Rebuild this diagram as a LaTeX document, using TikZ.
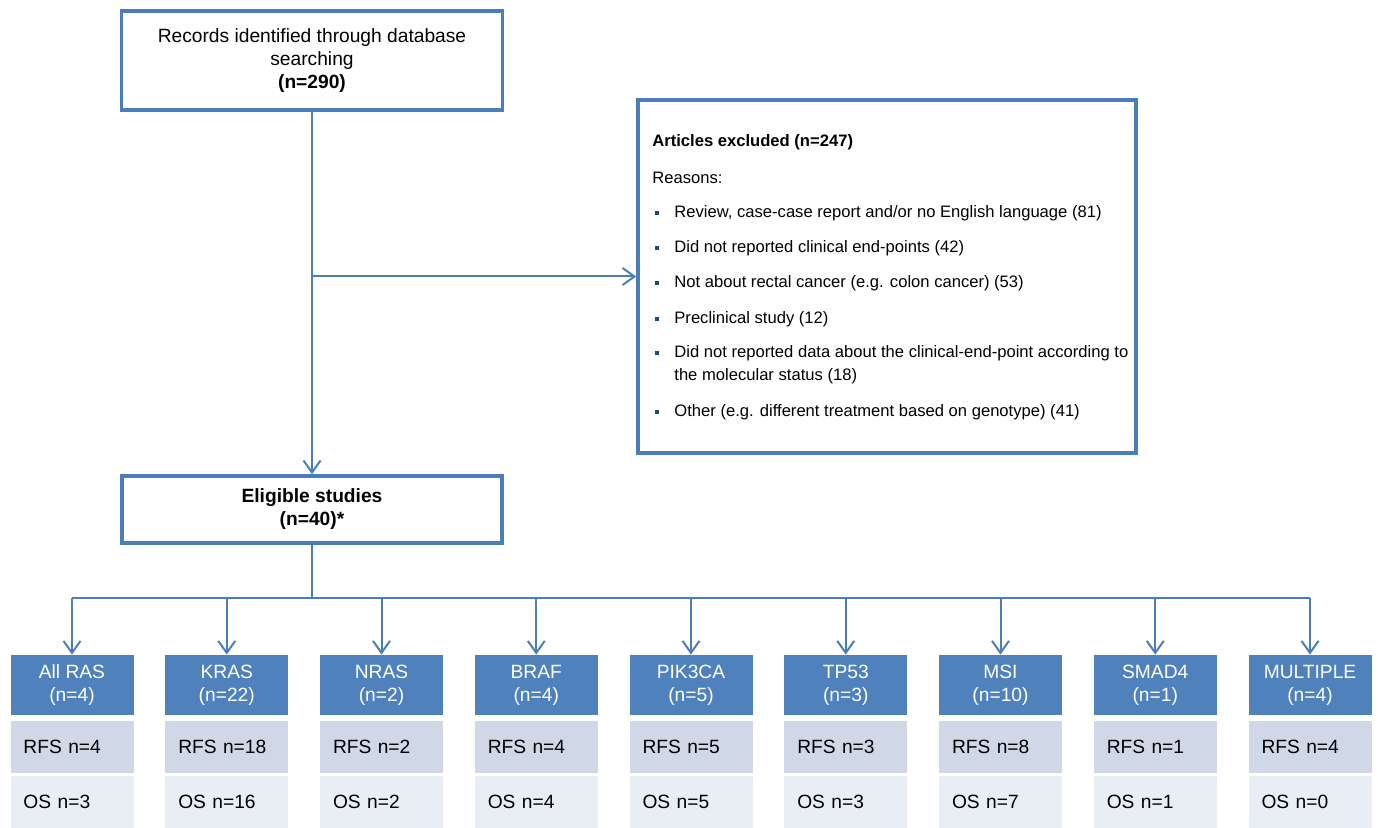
\documentclass[tikz,border=0pt]{standalone}
\usepackage{fontspec}
\setmainfont{Liberation Sans}
\usetikzlibrary{arrows.meta}
\definecolor{flowblue}{RGB}{74,126,187}
\definecolor{hdrblue}{RGB}{79,129,189}
\definecolor{rfsfill}{RGB}{208,216,232}
\definecolor{osfill}{RGB}{233,237,244}
\definecolor{dotblue}{RGB}{31,73,125}
\begin{document}
\begin{tikzpicture}[x=0.5pt, y=-0.5pt,
    every node/.style={font=\fontsize{9.6}{11.5}\selectfont},
    frame/.style={draw=flowblue, line width=1.75pt, fill=white, align=center},
    link/.style={draw=flowblue, line width=1pt},
    arr/.style={link, -{Straight Barb[length=6pt, width=8.5pt]}},
    reason/.style={anchor=west, inner sep=0pt, font=\fontsize{8.3}{10}\selectfont},
    dot/.style={fill=dotblue, minimum size=2.4pt, inner sep=0pt},
    hdr/.style={fill=hdrblue, text=white, minimum width=61.5pt, minimum height=30pt, inner sep=0pt, align=center},
    rfsrow/.style={fill=rfsfill, minimum height=26pt, text width=48.5pt, inner xsep=6.5pt, inner ysep=0pt, align=left},
    osrow/.style={fill=osfill, minimum height=26pt, text width=48.5pt, inner xsep=6.5pt, inner ysep=0pt, align=left}]
    \useasboundingbox (0,0) rectangle (1378,828);

    % search and eligible boxes
    \node[frame, minimum width=190.5pt, minimum height=49.5pt] (rec) at (312,60.5)
        {Records identified through database\\searching\\\textbf{(n=290)}};
    \node[frame, minimum width=190pt, minimum height=33.5pt, font=\fontsize{9.6}{11.5}\selectfont\bfseries] (elig) at (312,509.5)
        {Eligible studies\\(n=40)*};

    % excluded articles
    \node[frame, minimum width=249pt, minimum height=176.5pt] (excl) at (887,276.5) {};
    \node[reason, font=\fontsize{8.3}{10}\selectfont\bfseries] (exh) at (652,142) {Articles excluded (n=247)};
    \node[reason] (rsn) at (652,178) {Reasons:};
    \node[dot] (d1) at (657,213) {};
    \node[reason] (r1) at (674,213) {Review, case-case report and/or no English language (81)};
    \node[dot] (d2) at (657,248) {};
    \node[reason] (r2) at (674,248) {Did not reported clinical end-points (42)};
    \node[dot] (d3) at (657,283) {};
    \node[reason] (r3) at (674,283) {Not about rectal cancer (e.g. colon cancer) (53)};
    \node[dot] (d4) at (657,319) {};
    \node[reason] (r4) at (674,319) {Preclinical study (12)};
    \node[dot] (d5) at (657,353) {};
    \node[reason] (r5) at (674,353) {Did not reported data about the clinical-end-point according to};
    \node[reason] (r5b) at (674,376) {the molecular status (18)};
    \node[dot] (d6) at (657,412) {};
    \node[reason] (r6) at (674,412) {Other (e.g. different treatment based on genotype) (41)};

    % molecular groups
    \node[hdr] (allras) at (72,685) {All RAS\\(n=4)};
    \node[rfsrow] (allrasR) at (72,747) {RFS n=4};
    \node[osrow] (allrasO) at (72,802) {OS n=3};

    \node[hdr] (kras) at (226.75,685) {KRAS\\(n=22)};
    \node[rfsrow] (krasR) at (226.75,747) {RFS n=18};
    \node[osrow] (krasO) at (226.75,802) {OS n=16};

    \node[hdr] (nras) at (381.5,685) {NRAS\\(n=2)};
    \node[rfsrow] (nrasR) at (381.5,747) {RFS n=2};
    \node[osrow] (nrasO) at (381.5,802) {OS n=2};

    \node[hdr] (braf) at (536.25,685) {BRAF\\(n=4)};
    \node[rfsrow] (brafR) at (536.25,747) {RFS n=4};
    \node[osrow] (brafO) at (536.25,802) {OS n=4};

    \node[hdr] (pik) at (691,685) {PIK3CA\\(n=5)};
    \node[rfsrow] (pikR) at (691,747) {RFS n=5};
    \node[osrow] (pikO) at (691,802) {OS n=5};

    \node[hdr] (tp) at (845.75,685) {TP53\\(n=3)};
    \node[rfsrow] (tpR) at (845.75,747) {RFS n=3};
    \node[osrow] (tpO) at (845.75,802) {OS n=3};

    \node[hdr] (msi) at (1000.5,685) {MSI\\(n=10)};
    \node[rfsrow] (msiR) at (1000.5,747) {RFS n=8};
    \node[osrow] (msiO) at (1000.5,802) {OS n=7};

    \node[hdr] (smad) at (1155.25,685) {SMAD4\\(n=1)};
    \node[rfsrow] (smadR) at (1155.25,747) {RFS n=1};
    \node[osrow] (smadO) at (1155.25,802) {OS n=1};

    \node[hdr] (multi) at (1310,685) {MULTIPLE\\(n=4)};
    \node[rfsrow] (multiR) at (1310,747) {RFS n=4};
    \node[osrow] (multiO) at (1310,802) {OS n=0};

    % connectors
    \coordinate (branch) at (rec.south |- excl.west);
    \coordinate (split) at (312,598);
    \draw[arr] (rec.south) -- (elig.north);
    \draw[arr] (branch) -- (excl.west);
    \draw[link] (elig.south) -- (split);
    \draw[link] (allras.north |- split) -- (multi.north |- split);
    \draw[arr] (allras.north |- split) -- (allras.north);
    \draw[arr] (kras.north |- split) -- (kras.north);
    \draw[arr] (nras.north |- split) -- (nras.north);
    \draw[arr] (braf.north |- split) -- (braf.north);
    \draw[arr] (pik.north |- split) -- (pik.north);
    \draw[arr] (tp.north |- split) -- (tp.north);
    \draw[arr] (msi.north |- split) -- (msi.north);
    \draw[arr] (smad.north |- split) -- (smad.north);
    \draw[arr] (multi.north |- split) -- (multi.north);
\end{tikzpicture}
\end{document}
